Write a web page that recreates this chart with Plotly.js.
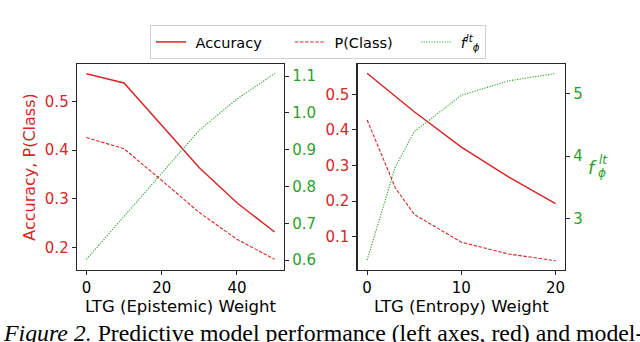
<!DOCTYPE html>
<html>
<head>
<meta charset="utf-8">
<script src="https://cdn.plot.ly/plotly-3.0.1.min.js"></script>
<style>html,body{margin:0;padding:0;background:#fff;}#chart{width:640px;height:342px;}</style>
</head>
<body>
<div id="chart"></div>
<script>
// ---- data ----
const epistemicWeight = [0, 10, 20, 30, 40, 50];
const epistemicAccuracy = [0.557, 0.538, 0.451, 0.364, 0.292, 0.232];
const epistemicPClass = [0.426, 0.403, 0.338, 0.272, 0.217, 0.176];
const epistemicF = [0.602, 0.72, 0.838, 0.953, 1.038, 1.107];

const entropyWeight = [0, 3, 5, 10, 15, 20];
const entropyAccuracy = [0.559, 0.495, 0.451, 0.352, 0.268, 0.193];
const entropyPClass = [0.428, 0.237, 0.163, 0.085, 0.052, 0.033];
const entropyF = [2.34, 3.83, 4.39, 4.97, 5.20, 5.32];

const seriesNames = ['Accuracy', 'P(Class)', '<i>f</i><sup><i>lt</i></sup><sub><i>ϕ</i></sub>'];
const leftXTicks = [0, 20, 40];
const rightXTicks = [0, 10, 20];
const leftYTicks = [0.2, 0.3, 0.4, 0.5];
const leftY2Ticks = [0.6, 0.7, 0.8, 0.9, 1.0, 1.1];
const rightYTicks = [0.1, 0.2, 0.3, 0.4, 0.5];
const rightY2Ticks = [3, 4, 5];

const RED = '#d62728', GREEN = '#2ca02c', AX = '#262626';
const FONT = 'DejaVu Sans, sans-serif';
const TICK = 15, TITLE = 16.5;

// legend spacing (padding with non-breaking spaces, as matplotlib spaces entries)
const sp = n => '&nbsp;'.repeat(n);
const legendLabels = [sp(1) + seriesNames[0] + sp(5), sp(1) + seriesNames[1] + sp(4), sp(1) + seriesNames[2]];

const accStyle = {color: RED, width: 1.5};
const pStyle = {color: RED, width: 1.1, dash: '3.5px,1.6px'};
const fStyle = {color: GREEN, width: 1.1, dash: '1.2px,1.4px'};

const traces = [
  {x: epistemicWeight, y: epistemicAccuracy, xaxis: 'x', yaxis: 'y', mode: 'lines', line: accStyle, name: legendLabels[0], showlegend: true},
  {x: epistemicWeight, y: epistemicPClass, xaxis: 'x', yaxis: 'y', mode: 'lines', line: pStyle, name: legendLabels[1], showlegend: true},
  {x: epistemicWeight, y: epistemicF, xaxis: 'x', yaxis: 'y2', mode: 'lines', line: fStyle, name: legendLabels[2], showlegend: true},
  {x: entropyWeight, y: entropyAccuracy, xaxis: 'x2', yaxis: 'y3', mode: 'lines', line: accStyle, name: seriesNames[0], showlegend: false},
  {x: entropyWeight, y: entropyPClass, xaxis: 'x2', yaxis: 'y3', mode: 'lines', line: pStyle, name: seriesNames[1], showlegend: false},
  {x: entropyWeight, y: entropyF, xaxis: 'x2', yaxis: 'y4', mode: 'lines', line: fStyle, name: seriesNames[2], showlegend: false}
];

const W = 640, H = 342;
const px = v => v / W, py = v => (H - v) / H;

function baseAxis(extra) {
  return Object.assign({
    showgrid: false, zeroline: false, showline: true, linecolor: AX, linewidth: 1.3,
    ticks: 'outside', ticklen: 4, tickwidth: 1, tickcolor: AX,
    tickfont: {family: FONT, size: TICK, color: '#000'}, fixedrange: true
  }, extra);
}

const yDomain = [py(270), py(64)];

const layout = {
  width: W, height: H,
  margin: {l: 0, r: 0, t: 0, b: 0},
  paper_bgcolor: '#fff', plot_bgcolor: '#fff',
  font: {family: FONT, size: 14, color: '#000'},
  showlegend: true,
  legend: {
    orientation: 'h', x: px(150), xanchor: 'left', y: py(25), yanchor: 'top',
    bordercolor: '#d0d0d0', borderwidth: 1, bgcolor: '#fff',
    font: {family: FONT, size: 14.5, color: '#000'}
  },
  xaxis: baseAxis({domain: [px(77), px(284)], range: [-2.5, 52.5], tickvals: leftXTicks, anchor: 'y', mirror: true,
    title: {text: 'LTG (Epistemic) Weight', font: {family: FONT, size: TITLE, color: '#000'}, standoff: 2}}),
  yaxis: baseAxis({domain: yDomain, range: [0.154, 0.577], tickvals: leftYTicks, tickformat: '.1f', anchor: 'x', mirror: true,
    tickfont: {family: FONT, size: TICK, color: RED},
    title: {text: 'Accuracy, P(Class)', font: {family: FONT, size: 16, color: RED}, standoff: 5}}),
  yaxis2: baseAxis({domain: yDomain, range: [0.573, 1.133], tickvals: leftY2Ticks, tickformat: '.1f', anchor: 'x', overlaying: 'y', side: 'right',
    tickfont: {family: FONT, size: TICK, color: GREEN}}),
  xaxis2: baseAxis({domain: [px(357.7), px(565)], range: [-1, 21], tickvals: rightXTicks, anchor: 'y3', mirror: true,
    title: {text: 'LTG (Entropy) Weight', font: {family: FONT, size: TITLE, color: '#000'}, standoff: 2}}),
  yaxis3: baseAxis({domain: yDomain, range: [0.007, 0.585], tickvals: rightYTicks, tickformat: '.1f', anchor: 'x2', mirror: true,
    tickfont: {family: FONT, size: TICK, color: RED}}),
  yaxis4: baseAxis({domain: yDomain, range: [2.18, 5.47], tickvals: rightY2Ticks, anchor: 'x2', overlaying: 'y3', side: 'right',
    tickfont: {family: FONT, size: TICK, color: GREEN}}),
  annotations: [
    {xref: 'paper', yref: 'paper', x: px(586), y: py(167), xanchor: 'left', yanchor: 'middle', showarrow: false,
     text: '<i>f</i>', font: {family: FONT, size: 18, color: GREEN}},
    {xref: 'paper', yref: 'paper', x: px(597), y: py(160), xanchor: 'left', yanchor: 'middle', showarrow: false,
     text: '<i>lt</i>', font: {family: FONT, size: 12, color: GREEN}},
    {xref: 'paper', yref: 'paper', x: px(596), y: py(173), xanchor: 'left', yanchor: 'middle', showarrow: false,
     text: '<i>ϕ</i>', font: {family: FONT, size: 12, color: GREEN}},
    {xref: 'paper', yref: 'paper', x: px(1), y: py(333), xanchor: 'left', yanchor: 'middle', showarrow: false,
     text: '<i>Figure 2.</i> Predictive model performance (left axes, red) and model-',
     font: {family: 'Liberation Serif, serif', size: 23.8, color: '#000'}}
  ]
};

Plotly.newPlot('chart', traces, layout, {staticPlot: true, displayModeBar: false});
</script>
</body>
</html>
